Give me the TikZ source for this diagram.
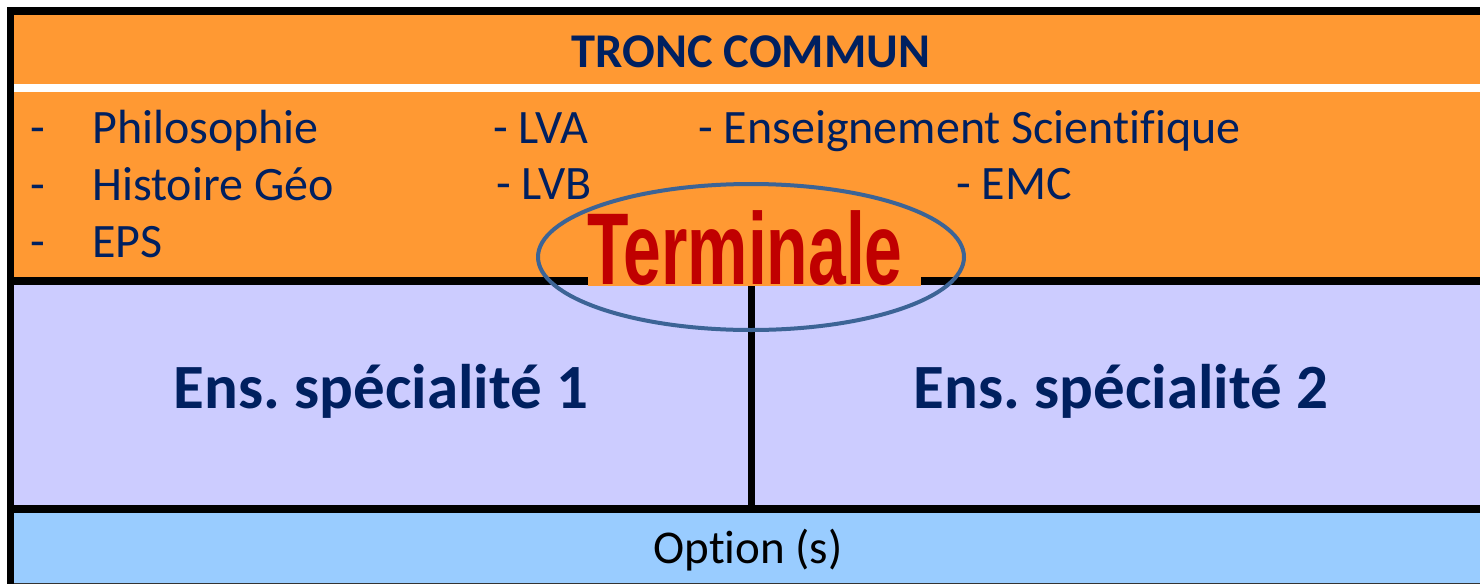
\documentclass[tikz,border=0pt]{standalone}
\usepackage{fontspec}
\setmainfont{Carlito}[Ligatures=NoCommon]
\newfontfamily\termfont{Liberation Sans}
\usepackage{graphicx}
\frenchspacing
\definecolor{orangebg}{HTML}{FF9933}
\definecolor{lavbg}{HTML}{CCCCFF}
\definecolor{bluebg}{HTML}{99CCFF}
\definecolor{navy}{HTML}{002060}
\definecolor{termred}{HTML}{C00000}
\definecolor{ellblue}{HTML}{3C6496}
\tikzset{
  listtxt/.style={anchor=base west, inner sep=0pt, text=navy, font=\fontsize{48}{56}\selectfont},
  headtxt/.style={anchor=base, inner sep=0pt, text=navy, font=\fontsize{48.5}{58}\selectfont\bfseries},
  spectxt/.style={anchor=base, inner sep=0pt, text=navy, font=\fontsize{63}{72}\selectfont\bfseries},
  opttxt/.style={anchor=base, inner sep=0pt, text=black, font=\fontsize{47}{56}\selectfont},
  termtxt/.style={anchor=base west, inner sep=0pt, text=termred, font=\fontsize{102}{110}\selectfont\termfont\bfseries},
  blackbar/.style={fill=black},
}
\begin{document}
\begin{tikzpicture}[x=1pt,y=-1pt]
\useasboundingbox (0,0) rectangle (1480,584);
\fill[white] (0,0) rectangle (1480,584);
% bands
\fill[orangebg] (14,15) rectangle (1480,277);
\fill[white] (14,84) rectangle (1480,92);
\fill[lavbg] (14,285) rectangle (1480,505);
\fill[bluebg] (14,513) rectangle (1480,583);
% black rules
\fill[blackbar] (7,7) rectangle (1480,15);
\fill[blackbar] (7,7) rectangle (14,584);
\fill[blackbar] (14,277) rectangle (1480,285);
\fill[blackbar] (748,285) rectangle (755,505);
\fill[blackbar] (14,505) rectangle (1480,513);
\fill[black!80] (14,583) rectangle (1480,584);
% header
\node[headtxt] (tronc) at (751,67) {TRONC COMMUN};
% list
\node[listtxt] (d1) at (30,143) {-};
\node[listtxt] (philo) at (92,143) {Philosophie};
\node[listtxt] (d2) at (30,200) {-};
\node[listtxt] (hist) at (92,200) {Histoire Géo};
\node[listtxt] (d3) at (30,257) {-};
\node[listtxt] (eps) at (92,257) {EPS};
\node[listtxt] (lva) at (493,143) {- LVA};
\node[listtxt] (lvb) at (496,199) {- LVB};
\node[listtxt] (ens) at (698,143) {- Enseignement Scientifique};
\node[listtxt] (emc) at (956,199) {- EMC};
% Terminale
\fill[orangebg] (588,205) rectangle (921,286);
\node[termtxt] (term) at (587,284) {\scalebox{0.665}[1]{Terminale}};
% specialities
\node[spectxt] (spe1) at (381,408) {Ens. spécialité 1};
\node[spectxt] (spe2) at (1121,408) {Ens. spécialité 2};
% option
\node[opttxt] (opt) at (748,563) {Option (s)};
% ellipse
\draw[ellblue, line width=4pt] (751,257) ellipse [x radius=213, y radius=73];
\end{tikzpicture}
\end{document}
